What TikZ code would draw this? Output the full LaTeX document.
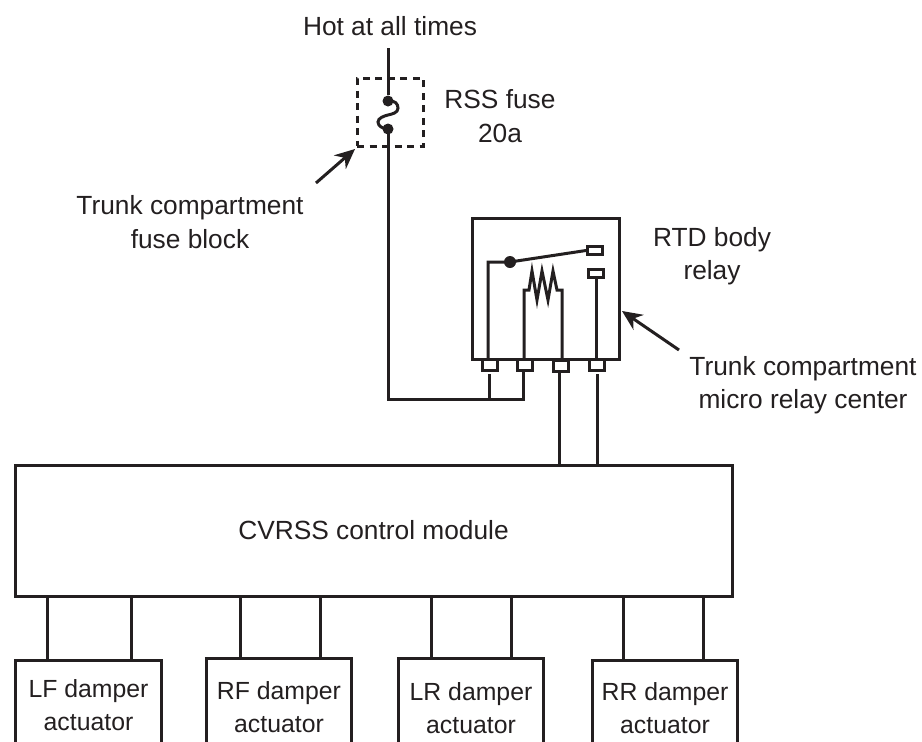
\documentclass[tikz,border=0pt]{standalone}
\usepackage{fontspec}
\setmainfont{Liberation Sans}
\definecolor{ink}{HTML}{231F20}
\tikzset{
  wire/.style={draw=ink,line width=3pt,line join=miter},
  pointer/.style={draw=ink,line width=3pt,-{Stealth[length=20pt,width=18pt]}},
  label/.style={text=ink,align=center,inner sep=0pt,font=\fontsize{26.3}{33.5}\selectfont},
  pin/.style={draw=ink,line width=3pt,fill=white,minimum width=15.5pt,minimum height=11pt,inner sep=0pt},
  contact/.style={draw=ink,line width=3pt,fill=white,minimum width=15pt,minimum height=8pt,inner sep=0pt},
  dot/.style={circle,fill=ink,inner sep=0pt},
  damper/.style={label,font=\fontsize{24.8}{33}\selectfont,minimum width=145pt,anchor=north}
}
\usetikzlibrary{arrows.meta}
\begin{document}
\begin{tikzpicture}[x=1pt,y=-1pt]
\useasboundingbox (0,0) rectangle (922,742);
% supply and fuse
\node[label] (hot) at (390,26) {Hot at all times};
\coordinate (feed) at (388,48);
\node[dot,minimum size=11pt] (fusetop) at (388,101) {};
\node[dot,minimum size=11pt] (fusebot) at (388,129) {};
\draw[wire] (feed) -- (fusetop);
\draw[wire] (fusetop.center) .. controls (395,100) and (398,104) .. (398,108) .. controls (398,113) and (392,114) .. (388,115) .. controls (384,116) and (378,118) .. (378,122) .. controls (378,126) and (383,129) .. (fusebot.center);
\node[draw=ink,dash pattern=on 7pt off 5.5pt,line width=3pt,minimum width=66pt,minimum height=68pt,inner sep=0pt] (fuseblock) at (390,112) {};
\node[label] (fuselabel) at (500,116) {RSS fuse\\20a};
\node[label] (blocklabel) at (190,222) {Trunk compartment\\fuse block};
\coordinate (blocktail) at (316,183);
\coordinate (blocktip) at (355,149);
\draw[pointer] (blocktail) -- (blocktip);
% relay
\node[draw=ink,line width=3pt,minimum width=147pt,minimum height=141pt,inner sep=0pt] (relay) at (545.5,288.5) {};
\node[pin] (pina) at (490,365) {};
\node[pin] (pinb) at (525,365) {};
\node[pin] (pinc) at (561,366) {};
\node[pin] (pind) at (597,365) {};
\node[contact] (conup) at (595,250.5) {};
\node[contact] (condown) at (596,273.5) {};
\node[dot,minimum size=12pt] (pivot) at (510,262) {};
\draw[wire] (488,359) |- (pivot.center) -- (conup.west);
\draw[wire] (condown.south) -- (596,359);
\draw[wire] (524,359) -- (524,290) -- (529,290) -- (532,271) -- (537,300) -- (542,271) -- (548,300) -- (553,271) -- (557,290) -- (562,290) -- (562,359);
\node[label] (relaylabel) at (712,256) {RTD body\\relay};
\node[label] (centerlabel) at (803,385) {Trunk compartment\\micro relay center};
\coordinate (centertail) at (679,350);
\coordinate (centertip) at (622,311);
\draw[pointer] (centertail) -- (centertip);
% control module
\node[draw=ink,line width=3pt,minimum width=717pt,minimum height=131pt,inner sep=0pt,label] (module) at (373.5,530.5) {CVRSS control module};
\coordinate (bend) at (388,399);
\coordinate (tee) at (489.5,399);
\coordinate (corner) at (523.5,399);
\draw[wire,line cap=rect] (fusebot) -- (bend) -- (corner) -- (pinb.south -| corner);
\draw[wire] (tee) -- (489.5,374);
\draw[wire] (pinc.south -| 559,0) -- (559,465);
\draw[wire] (597,374) -- (597,465);
% damper actuators
\node[damper,minimum height=89pt] (lf) at (88.5,660) {LF damper\\actuator};
\node[damper,minimum height=97pt] (rf) at (279,658) {RF damper\\actuator};
\node[damper,minimum height=100pt] (lr) at (471,658) {LR damper\\actuator};
\node[damper,minimum height=96pt] (rr) at (665,660) {RR damper\\actuator};
\foreach \act/\xa/\xb in {lf/47/131,rf/240/320,lr/431/511,rr/623/703}{
  \draw[wire] (\act.north west) -- (\act.south west);
  \draw[wire] (\act.north east) -- (\act.south east);
  \draw[wire] ([xshift=-1.5pt]\act.north west) -- ([xshift=1.5pt]\act.north east);
  \draw[wire] (\xa,596) -- (\act.north -| \xa,0);
  \draw[wire] (\xb,596) -- (\act.north -| \xb,0);
}
\end{tikzpicture}
\end{document}
